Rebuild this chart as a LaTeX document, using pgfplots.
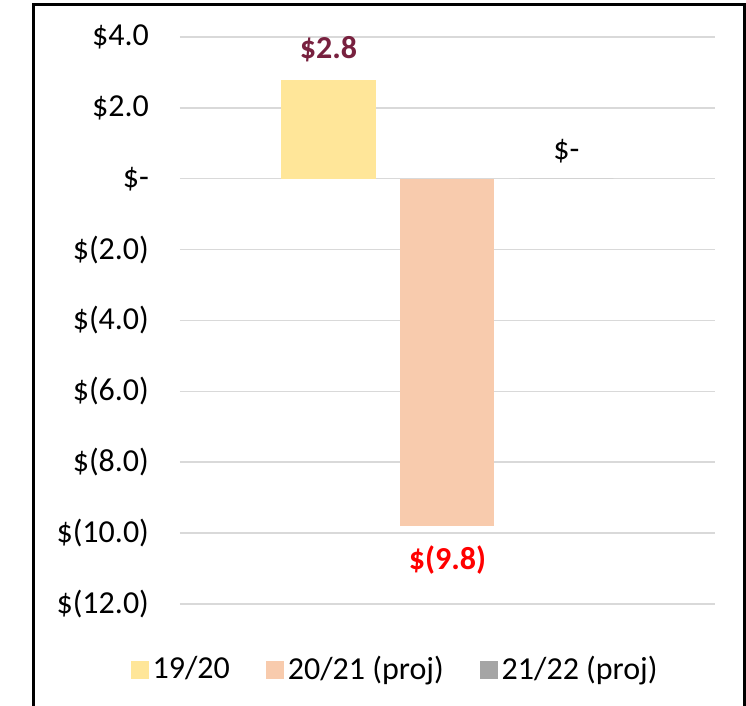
\documentclass[border=0pt]{standalone}
\usepackage{pgfplots}
\pgfplotsset{compat=1.18}
\usepackage{fontspec}
\setmainfont{Carlito}

\definecolor{bar1}{HTML}{FFE699}
\definecolor{bar2}{HTML}{F8CBAD}
\definecolor{bar3}{HTML}{A5A5A5}
\definecolor{maroon}{HTML}{78213F}
\definecolor{gridc}{HTML}{D9D9D9}

\begin{document}
\begin{tikzpicture}
\fontsize{16}{19}\selectfont
\begin{axis}[
  at={(0,0)}, anchor=south west,
  scale only axis, width=267.5pt, height=283.5pt,
  ybar, bar width=0.79, /pgf/bar shift=0pt,
  xmin=-0.248, xmax=4.248, ymin=-12, ymax=4,
  xtick=\empty,
  ytick={-12,-10,-8,-6,-4,-2,0,2,4},
  yticklabels={\$(12.0),\$(10.0),\$(8.0),\$(6.0),\$(4.0),\$(2.0),\$-,\$2.0,\$4.0},
  yticklabel style={anchor=east, xshift=-10pt, font=\fontsize{16}{19}\selectfont},
  ytick style={draw=none},
  ymajorgrids, major grid style={gridc, line width=0.75pt},
  axis line style={draw=none},
  legend columns=3,
  legend style={at={(axis description cs:0.404,-0.116)}, anchor=center, draw=none,
    font=\fontsize{16}{19}\selectfont,
    /tikz/every even column/.append style={column sep=16pt}},
  legend image code/.code={\fill[#1] (0pt,-4.5pt) rectangle (9pt,4.5pt);},
]
\addplot[fill=bar1, draw=none,
  nodes near coords={\$2.8},
  nodes near coords style={font=\fontsize{16}{19}\selectfont\bfseries, text=maroon, yshift=3.5pt}]
  coordinates {(1,2.8)};
\addplot[fill=bar2, draw=none,
  nodes near coords={\$(9.8)},
  nodes near coords style={font=\fontsize{16}{19}\selectfont\bfseries, text=red, yshift=-4.5pt}]
  coordinates {(2,-9.8)};
\addplot[fill=bar3, draw=none,
  nodes near coords={\$-},
  nodes near coords style={font=\fontsize{16}{19}\selectfont, text=black, yshift=2.5pt}]
  coordinates {(3,0)};
\legend{19/20, 20/21 (proj), 21/22 (proj)}
\end{axis}
\pgfresetboundingbox
\useasboundingbox (-90pt,-51pt) rectangle (283pt,302pt);
\draw[line width=1.5pt, black] (-73.25pt,-60pt) -- (-73.25pt,299.5pt) -- (282.25pt,299.5pt) -- (282.25pt,-60pt);
\end{tikzpicture}
\end{document}
